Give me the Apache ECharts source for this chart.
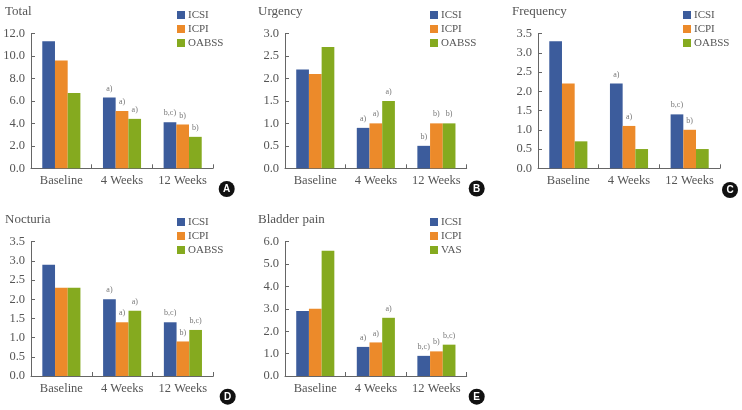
<!DOCTYPE html>
<html>
<head>
<meta charset="utf-8">
<script src="https://cdn.jsdelivr.net/npm/echarts@6/dist/echarts.min.js"></script>
<style>
html,body{margin:0;padding:0;background:#fff;}
#c{width:742px;height:410px;}
</style>
</head>
<body>
<div id="c"></div>
<script>
const categories = ['Baseline', '4 Weeks', '12 Weeks'];

const totalICSI = [11.3, 6.3, 4.1];
const totalICPI = [9.6, 5.1, 3.9];
const totalOABSS = [6.7, 4.4, 2.8];
const totalICSINotes = ['', 'a)', 'b,c)'];
const totalICPINotes = ['', 'a)', 'b)'];
const totalOABSSNotes = ['', 'a)', 'b)'];

const urgencyICSI = [2.2, 0.9, 0.5];
const urgencyICPI = [2.1, 1.0, 1.0];
const urgencyOABSS = [2.7, 1.5, 1.0];
const urgencyICSINotes = ['', 'a)', 'b)'];
const urgencyICPINotes = ['', 'a)', 'b)'];
const urgencyOABSSNotes = ['', 'a)', 'b)'];

const frequencyICSI = [3.3, 2.2, 1.4];
const frequencyICPI = [2.2, 1.1, 1.0];
const frequencyOABSS = [0.7, 0.5, 0.5];
const frequencyICSINotes = ['', 'a)', 'b,c)'];
const frequencyICPINotes = ['', 'a)', 'b)'];
const frequencyOABSSNotes = ['', '', ''];

const nocturiaICSI = [2.9, 2.0, 1.4];
const nocturiaICPI = [2.3, 1.4, 0.9];
const nocturiaOABSS = [2.3, 1.7, 1.2];
const nocturiaICSINotes = ['', 'a)', 'b,c)'];
const nocturiaICPINotes = ['', 'a)', 'b)'];
const nocturiaOABSSNotes = ['', 'a)', 'b,c)'];

const painICSI = [2.9, 1.3, 0.9];
const painICPI = [3.0, 1.5, 1.1];
const painVAS = [5.6, 2.6, 1.4];
const painICSINotes = ['', 'a)', 'b,c)'];
const painICPINotes = ['', 'a)', 'b)'];
const painVASNotes = ['', 'a)', 'b,c)'];

const panelTitles = ['Total', 'Urgency', 'Frequency', 'Nocturia', 'Bladder pain'];
const panelLetters = ['A', 'B', 'C', 'D', 'E'];
const yMax = [12, 3, 3.5, 3.5, 6];
const yStep = [2, 0.5, 0.5, 0.5, 1];

const FONT = '"Liberation Serif", "DejaVu Serif", serif';
const colors = {ICSI: '#3c5c9c', ICPI: '#ec8a2a', OABSS: '#85aa1f', VAS: '#85aa1f'};

const panels = [
  {series: [['ICSI', totalICSI, totalICSINotes], ['ICPI', totalICPI, totalICPINotes], ['OABSS', totalOABSS, totalOABSSNotes]]},
  {series: [['ICSI', urgencyICSI, urgencyICSINotes], ['ICPI', urgencyICPI, urgencyICPINotes], ['OABSS', urgencyOABSS, urgencyOABSSNotes]]},
  {series: [['ICSI', frequencyICSI, frequencyICSINotes], ['ICPI', frequencyICPI, frequencyICPINotes], ['OABSS', frequencyOABSS, frequencyOABSSNotes]]},
  {series: [['ICSI', nocturiaICSI, nocturiaICSINotes], ['ICPI', nocturiaICPI, nocturiaICPINotes], ['OABSS', nocturiaOABSS, nocturiaOABSSNotes]]},
  {series: [['ICSI', painICSI, painICSINotes], ['ICPI', painICPI, painICPINotes], ['VAS', painVAS, painVASNotes]]}
];

// layout: [gridLeft, gridTop, gridWidth, gridHeight, titleX, titleY, legendX, legendY, badgeX, badgeY]
const layout = [
  [31, 33.5, 182, 134.8, 5, 12, 172, 4.5, 226.7, 189],
  [285, 33.5, 181.7, 134.8, 258, 12, 425, 4.5, 476.7, 188.5],
  [538, 33.5, 182, 134.8, 512, 12, 678, 4.5, 730, 190],
  [31, 241.7, 182.3, 134.3, 5, 220, 172, 211.5, 227.7, 396.7],
  [285, 241.7, 181.7, 134.3, 258, 220, 425, 211.5, 476.7, 396.7]
];

const grid = [], xAxis = [], yAxis = [], series = [], legend = [], graphic = [];
const axisColor = '#666';
const textColor = '#555';

panels.forEach((p, i) => {
  const L = layout[i];
  grid.push({left: L[0], top: L[1], width: L[2], height: L[3], containLabel: false});
  xAxis.push({
    type: 'category', gridIndex: i, data: categories,
    axisLine: {lineStyle: {color: axisColor, width: 1}},
    axisTick: {show: true, inside: true, length: 4, alignWithLabel: false, lineStyle: {color: axisColor}},
    axisLabel: {color: textColor, fontFamily: FONT, fontSize: 12.5, margin: 6, interval: 0, hideOverlap: false}
  });
  yAxis.push({
    type: 'value', gridIndex: i, min: 0, max: yMax[i], interval: yStep[i],
    axisLine: {show: true, lineStyle: {color: axisColor, width: 1}},
    axisTick: {show: true, inside: true, length: 4, lineStyle: {color: axisColor}},
    splitLine: {show: false},
    axisLabel: {color: textColor, fontFamily: FONT, fontSize: 12.5, margin: 6,
      formatter: v => v.toFixed(1)}
  });
  p.series.forEach(([name, vals, notes]) => {
    series.push({
      type: 'bar', name: name, xAxisIndex: i, yAxisIndex: i,
      data: vals, barWidth: 12.7, barGap: '0%',
      itemStyle: {color: colors[name]},
      label: {
        show: true, position: 'top', distance: 5,
        fontFamily: FONT, fontSize: 8, color: '#777',
        formatter: prm => notes[prm.dataIndex]
      }
    });
  });
  legend.push({
    orient: 'vertical', left: L[6], top: L[7],
    data: p.series.map(s => s[0]),
    icon: 'rect', itemWidth: 8, itemHeight: 8, itemGap: 3,
    textStyle: {fontFamily: FONT, fontSize: 11, color: textColor, lineHeight: 11, padding: [0, 0, 0, -2]},
    selectedMode: false
  });
  graphic.push({
    type: 'text', left: L[4], top: L[5] - 7,
    style: {text: panelTitles[i], font: '13px ' + FONT, fill: textColor}
  });
  graphic.push({
    type: 'circle', shape: {cx: L[8], cy: L[9], r: 8},
    style: {fill: '#111'}
  });
  graphic.push({
    type: 'text', x: L[8], y: L[9] + 0.5,
    style: {text: panelLetters[i], font: 'bold 10px "Liberation Sans", Arial, sans-serif', fill: '#fff', align: 'center', verticalAlign: 'middle'}
  });
});

const chart = echarts.init(document.getElementById('c'), null, {renderer: 'canvas'});
chart.setOption({
  animation: false,
  backgroundColor: '#fff',
  grid, xAxis, yAxis, series, legend, graphic
});
</script>
</body>
</html>
